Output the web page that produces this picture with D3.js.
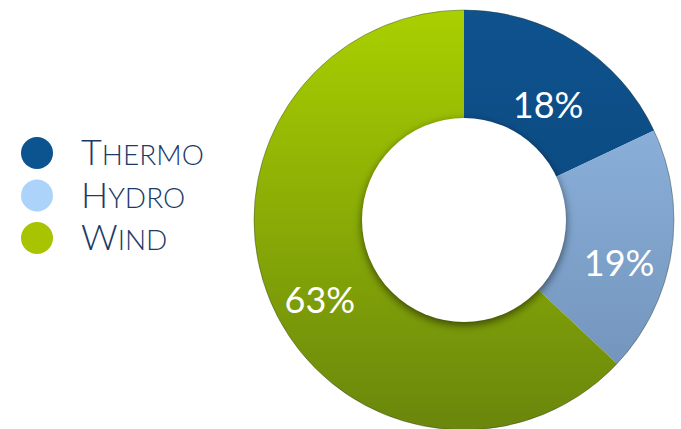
<!DOCTYPE html>
<html>
<head>
<meta charset="utf-8">
<script src="https://cdn.jsdelivr.net/npm/d3@7"></script>
<style>
  body { margin: 0; background: #fff; }
  svg { display: block; }
</style>
</head>
<body>
<div id="chart"></div>
<script>
// Data
const categories = ["Thermo", "Hydro", "Wind"];
const shares = [18, 19, 63];
const shareLabels = ["18%", "19%", "63%"];

const width = 681, height = 429;
const cx = 464, cy = 220;
const outerR = 210, innerR = 102;

// Legend swatches and slice gradients
const legendColors = ["#0b5490", "#acd4fb", "#a8c400"];
const gradTop = ["#0e528e", "#94bbe6", "#a9d000"];
const gradBottom = ["#0a4273", "#6e8fb6", "#6a860c"];

const svg = d3.select("#chart")
    .append("svg")
    .attr("width", width)
    .attr("height", height);

const defs = svg.append("defs");

// gradient coordinates are local to the translated group
categories.forEach((c, i) => {
    const g = defs.append("linearGradient")
        .attr("id", "grad" + i)
        .attr("gradientUnits", "userSpaceOnUse")
        .attr("x1", 0).attr("y1", -outerR)
        .attr("x2", 0).attr("y2", outerR);
    g.append("stop").attr("offset", "0%").attr("stop-color", gradTop[i]);
    g.append("stop").attr("offset", "100%").attr("stop-color", gradBottom[i]);
});

// Shadow around the hole
const shadow = defs.append("filter").attr("id", "holeShadow")
    .attr("x", "-30%").attr("y", "-30%").attr("width", "160%").attr("height", "160%");
shadow.append("feGaussianBlur").attr("in", "SourceAlpha").attr("stdDeviation", 4);
shadow.append("feOffset").attr("dx", 0).attr("dy", 3).attr("result", "b");
shadow.append("feFlood").attr("flood-color", "#000").attr("flood-opacity", 0.55);
shadow.append("feComposite").attr("in2", "b").attr("operator", "in");

const pie = d3.pie().sort(null).value(d => d);
const arcs = pie(shares);

const arc = d3.arc().innerRadius(innerR - 2).outerRadius(outerR);
const labelArc = d3.arc().innerRadius(152).outerRadius(162);

const g = svg.append("g").attr("transform", `translate(${cx},${cy})`);

g.selectAll(".slice")
    .data(arcs)
    .enter()
    .append("path")
    .attr("class", "slice")
    .attr("d", arc)
    .attr("fill", (d, i) => `url(#grad${i})`);

// thin dark rim on the outer edge
g.append("circle")
    .attr("r", outerR)
    .attr("fill", "none")
    .attr("stroke", "#2a3a20")
    .attr("stroke-opacity", 0.4)
    .attr("stroke-width", 1);

// hole with soft shadow
g.append("circle")
    .attr("r", innerR)
    .attr("fill", "#000")
    .attr("filter", "url(#holeShadow)");
g.append("circle")
    .attr("r", innerR)
    .attr("fill", "#fff");

g.selectAll(".pct")
    .data(arcs)
    .enter()
    .append("text")
    .attr("class", "pct")
    .attr("transform", d => {
        const [x, y] = labelArc.centroid(d);
        return `translate(${x},${y + 18})`;
    })
    .attr("text-anchor", "middle")
    .attr("dy", "0.36em")
    .style("font-family", "Lato, 'Open Sans', sans-serif")
    .style("font-size", "36px")
    .style("fill", "#fff")
    .text((d, i) => shareLabels[i]);

// Legend
const legend = svg.append("g").attr("transform", "translate(37,153)");
const item = legend.selectAll(".item")
    .data(categories)
    .enter()
    .append("g")
    .attr("class", "item")
    .attr("transform", (d, i) => `translate(0,${i * 42.5})`);

item.append("circle")
    .attr("r", 16)
    .attr("fill", (d, i) => legendColors[i]);

const label = item.append("text")
    .attr("x", 44)
    .attr("y", 12)
    .style("font-family", "Lato, sans-serif")
    .style("font-weight", 300)
    .style("fill", "#1c3a66");

label.append("tspan")
    .style("font-size", "36px")
    .text(d => d[0].toUpperCase());
label.append("tspan")
    .style("font-size", "28px")
    .text(d => d.slice(1).toUpperCase());
</script>
</body>
</html>
